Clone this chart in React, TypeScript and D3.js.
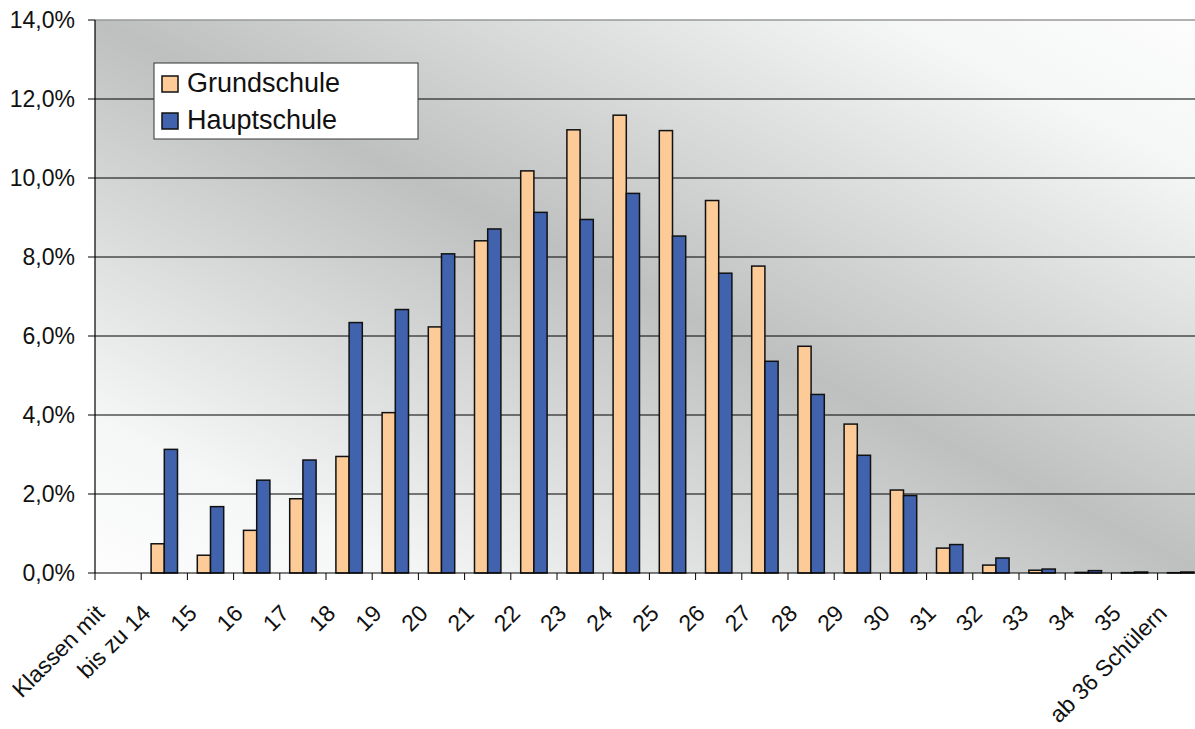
import * as d3 from 'd3'

// Klassengrößen: Anteil der Klassen je Schülerzahl
const categories = [
  'Klassen mit', 'bis zu 14', '15', '16', '17', '18', '19', '20', '21', '22', '23', '24',
  '25', '26', '27', '28', '29', '30', '31', '32', '33', '34', '35', 'ab 36 Schülern',
]
const series = ['Grundschule', 'Hauptschule']
const grundschule = [
  0, 0.74, 0.45, 1.08, 1.88, 2.95, 4.06, 6.23, 8.41, 10.18, 11.22, 11.59,
  11.2, 9.43, 7.77, 5.74, 3.77, 2.1, 0.63, 0.2, 0.07, 0.015, 0.01, 0.008,
]
const hauptschule = [
  0, 3.13, 1.68, 2.35, 2.86, 6.34, 6.67, 8.08, 8.71, 9.13, 8.95, 9.61,
  8.53, 7.59, 5.36, 4.52, 2.98, 1.96, 0.72, 0.38, 0.1, 0.06, 0.025, 0.025,
]
const yTicks = [0, 2, 4, 6, 8, 10, 12, 14]
const colors = ['#fccb98', '#4163ae']

const W = 1195
const H = 729
const left = 95
const top = 20
const bottom = 573
const step = 46.2
const right = left + step * categories.length

const FONT = "Arial, 'Liberation Sans', sans-serif"

export default function App() {
  const x = d3.scaleBand<string>().domain(categories).range([left, right]).padding(0)
  const xs = d3.scaleBand<string>().domain(series).range([0, x.bandwidth()]).paddingInner(0).paddingOuter(0.75)
  const y = d3.scaleLinear().domain([0, 14]).range([bottom, top])
  const fmt = (v: number) => v.toFixed(1).replace('.', ',') + '%'
  const data = [grundschule, hauptschule]

  return (
    <svg width={W} height={H} style={{ position: 'absolute', left: 0, top: 0, background: '#fff' }} fontFamily={FONT}>
      <defs>
        <linearGradient id="bg" x1="1" y1="0" x2="0" y2="1">
          <stop offset="0" stopColor="#fdfdfd" />
          <stop offset="0.14" stopColor="#f5f6f6" />
          <stop offset="0.5" stopColor="#bebfbf" />
          <stop offset="0.86" stopColor="#f5f6f6" />
          <stop offset="1" stopColor="#fdfdfd" />
        </linearGradient>
      </defs>
      <rect x={left} y={top} width={right - left} height={bottom - top} fill="url(#bg)" />

      {/* gridlines */}
      {yTicks.filter((t) => t > 0).map((t) => (
        <line key={t} x1={left} x2={right} y1={y(t)} y2={y(t)} stroke={t === 14 ? '#999' : '#000'} strokeWidth={t === 14 ? 1.5 : 1} />
      ))}

      {/* bars */}
      {series.map((s, si) => (
        <g key={s}>
          {categories.map((c, ci) => {
            const v = data[si][ci]
            if (v <= 0) return null
            const x0 = (x(c) ?? 0) + (xs(s) ?? 0)
            return (
              <rect key={c} x={x0} y={y(v)} width={xs.bandwidth()} height={bottom - y(v)}
                fill={colors[si]} stroke="#111" strokeWidth={1.5} />
            )
          })}
        </g>
      ))}

      {/* y axis */}
      <line x1={left} x2={left} y1={top} y2={bottom} stroke="#000" strokeWidth={1.2} />
      {yTicks.map((t) => (
        <g key={t}>
          <line x1={left - 7} x2={left} y1={y(t)} y2={y(t)} stroke="#000" />
          <text x={75} y={y(t)} dy="0.35em" textAnchor="end" fontSize={23} fill="#111">{fmt(t)}</text>
        </g>
      ))}

      {/* x axis */}
      <line x1={left} x2={right} y1={bottom} y2={bottom} stroke="#000" strokeWidth={1.2} />
      {categories.map((c, i) => (
        <line key={c} x1={left + i * step} x2={left + i * step} y1={bottom} y2={bottom + 7} stroke="#000" />
      ))}
      {categories.map((c) => {
        const cx = (x(c) ?? 0) + x.bandwidth() / 2
        return (
          <text key={c} transform={`translate(${cx - 18},${609}) rotate(-45)`} textAnchor="end" dy="0.35em"
            fontSize={23} fill="#111">{c}</text>
        )
      })}

      {/* legend */}
      <rect x={154} y={63} width={264} height={76} fill="#fff" stroke="#333" strokeWidth={1} />
      {series.map((s, i) => (
        <g key={s} transform={`translate(162,${76 + i * 37})`}>
          <rect width={16} height={16} fill={colors[i]} stroke="#111" strokeWidth={1.5} />
          <text x={25} y={16} fontSize={27} fill="#111">{s}</text>
        </g>
      ))}
    </svg>
  )
}
